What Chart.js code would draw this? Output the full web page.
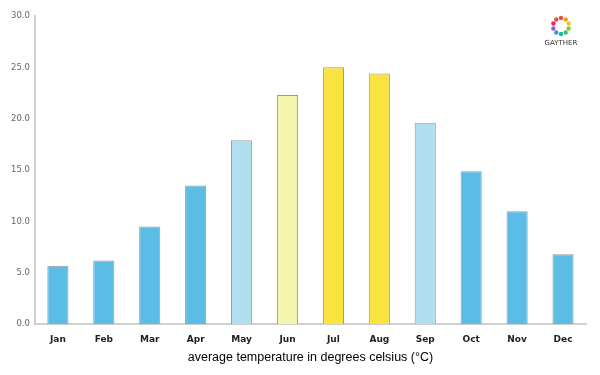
<!DOCTYPE html>
<html>
<head>
<meta charset="utf-8">
<script src="https://cdn.jsdelivr.net/npm/chart.js@4"></script>
<style>
  body { margin: 0; background: #fff; }
  #wrap { width: 600px; height: 375px; }
</style>
</head>
<body>
<div id="wrap"><canvas id="myChart" width="600" height="375"></canvas></div>
<script>
var months = ['Jan', 'Feb', 'Mar', 'Apr', 'May', 'Jun', 'Jul', 'Aug', 'Sep', 'Oct', 'Nov', 'Dec'];
var temps = [5.7, 6.2, 9.5, 13.5, 17.9, 22.3, 25.0, 24.4, 19.6, 14.9, 11.0, 6.8];
var barColors = ['#5bbde6', '#5bbde6', '#5bbde6', '#5bbde6', '#b2dff0', '#f3f4ae', '#f9e341', '#f9e341', '#b2dff0', '#5bbde6', '#5bbde6', '#5bbde6'];

// small logo in the top right corner
var logoPlugin = {
    id: 'logo',
    afterDraw: function(chart) {
        var c = chart.ctx;
        var cx = 561, cy = 26, r = 8;
        var cols = ['#e84c3d', '#f39c12', '#f1c40f', '#8cc63f', '#2ecc71', '#1abc9c', '#3498db', '#9b59b6', '#e91e63', '#e74c3c'];
        c.save();
        for (var i = 0; i < cols.length; i++) {
            var a = i / cols.length * Math.PI * 2 - Math.PI / 2;
            c.fillStyle = cols[i];
            c.beginPath();
            c.arc(cx + Math.cos(a) * r, cy + Math.sin(a) * r, 2.2, 0, Math.PI * 2);
            c.fill();
        }
        c.fillStyle = '#333';
        c.font = '7px "DejaVu Sans"';
        c.textAlign = 'center';
        c.textBaseline = 'middle';
        c.fillText('GAYTHER', cx, 43);
        c.restore();
    }
};

var ctx = document.getElementById('myChart').getContext('2d');
var myChart = new Chart(ctx, {
    type: 'bar',
    data: {
        labels: months,
        datasets: [{
            data: temps,
            backgroundColor: barColors,
            borderColor: '#9a9a9a',
            borderWidth: 1,
            categoryPercentage: 1,
            barPercentage: 0.46
        }]
    },
    plugins: [logoPlugin],
    options: {
        responsive: false,
        animation: false,
        layout: { padding: { top: 16, right: 14, left: 6, bottom: 10 } },
        plugins: {
            legend: { display: false },
            tooltip: { enabled: false }
        },
        scales: {
            y: {
                min: 0,
                max: 30,
                ticks: {
                    stepSize: 5,
                    color: '#666',
                    font: { family: 'DejaVu Sans', size: 8.5 },
                    padding: 5,
                    callback: function(v) { return v.toFixed(1); }
                },
                grid: { display: false, drawTicks: false },
                border: { color: '#cfcfcf', width: 2 }
            },
            x: {
                ticks: {
                    color: '#222',
                    font: { family: 'DejaVu Sans', size: 9, weight: 'bold' },
                    padding: 10
                },
                grid: { display: false, drawTicks: false },
                border: { color: '#cfcfcf', width: 2 },
                title: {
                    display: true,
                    text: 'average temperature in degrees celsius (°C)',
                    color: '#000',
                    font: { family: 'Liberation Sans', size: 12.5 },
                    padding: { top: -5, bottom: 0 }
                }
            }
        }
    }
});
</script>
</body>
</html>
